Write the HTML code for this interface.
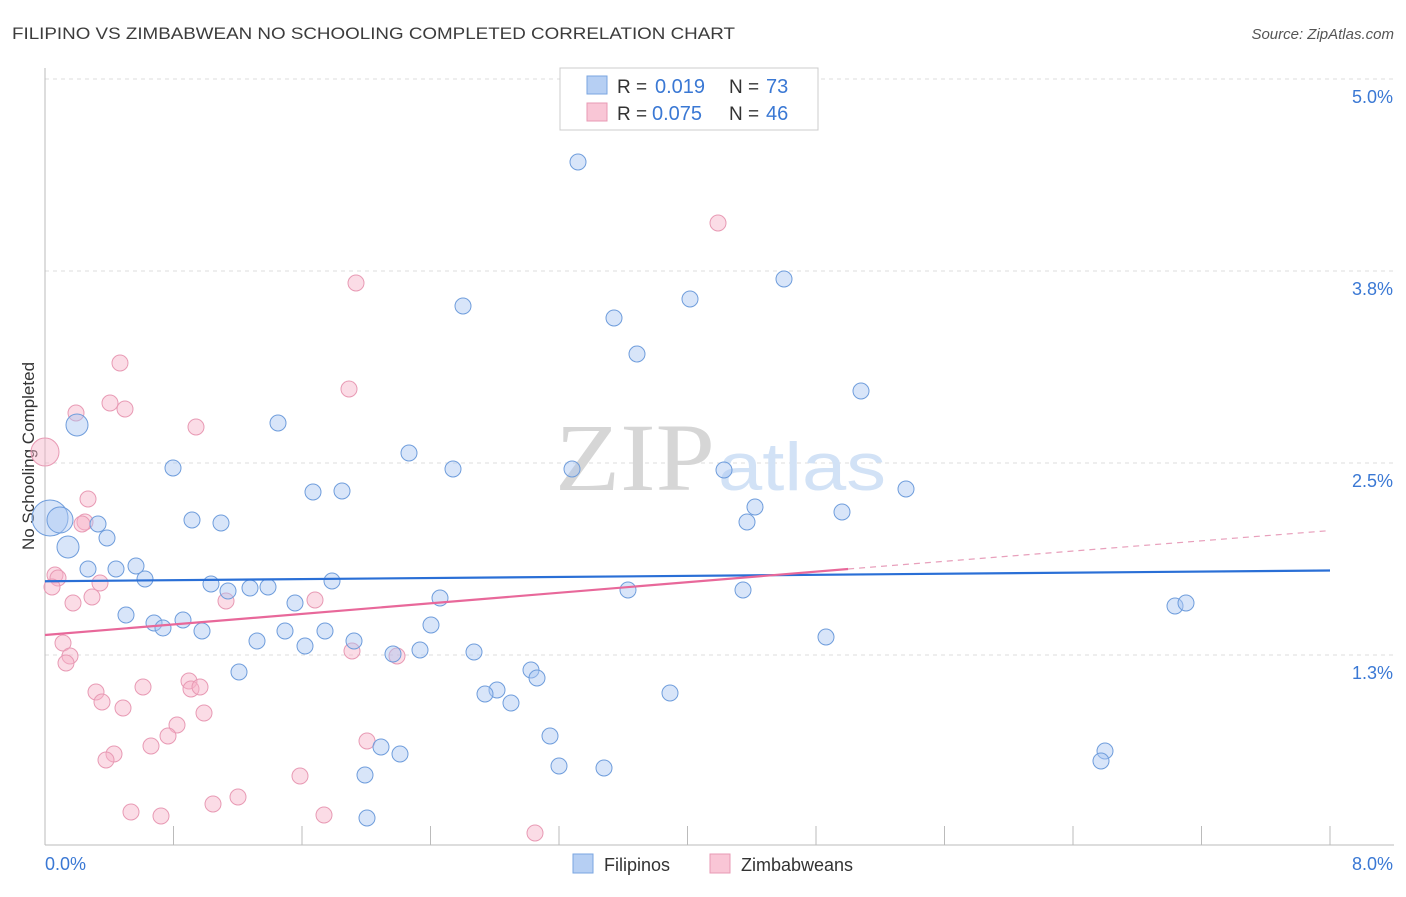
<!DOCTYPE html>
<html><head><meta charset="utf-8"><style>
body{margin:0;background:#fff;font-family:"Liberation Sans",sans-serif}
</style></head><body>
<svg id="chart" width="1406" height="892" viewBox="0 0 1406 892" font-family="Liberation Sans, sans-serif">
<text x="12" y="39" font-size="17" fill="#3c3c3c" textLength="723" lengthAdjust="spacingAndGlyphs">FILIPINO VS ZIMBABWEAN NO SCHOOLING COMPLETED CORRELATION CHART</text>
<text x="1394" y="39" font-size="15" fill="#555" font-style="italic" text-anchor="end">Source: ZipAtlas.com</text>
<text x="34" y="456" font-size="17" fill="#333" text-anchor="middle" transform="rotate(-90 34 456)">No Schooling Completed</text>
<g id="grid"></g>
<text x="555" y="490" font-size="96" fill="#d6d6d6" style="font-family:'Liberation Serif',serif" textLength="160" lengthAdjust="spacingAndGlyphs">ZIP</text>
<text x="718" y="490" font-size="68" fill="#d2e2f6" textLength="168" lengthAdjust="spacingAndGlyphs">atlas</text>
<g id="pts"></g>
<g id="lines"></g>
<g>
<rect x="560" y="68" width="258" height="62" fill="#fff" stroke="#ccc"/>
<rect x="587" y="76" width="20" height="18" fill="#b6cff3" stroke="#7aa6e0"/>
<rect x="587" y="103" width="20" height="18" fill="#f9c6d6" stroke="#e89ab4"/>
<text x="617" y="93" font-size="19" fill="#333">R =</text>
<text x="655" y="93" font-size="20" fill="#3a78d4">0.019</text>
<text x="729" y="93" font-size="19" fill="#333">N =</text>
<text x="766" y="93" font-size="20" fill="#3a78d4">73</text>
<text x="617" y="120" font-size="19" fill="#333">R =</text>
<text x="652" y="120" font-size="20" fill="#3a78d4">0.075</text>
<text x="729" y="120" font-size="19" fill="#333">N =</text>
<text x="766" y="120" font-size="20" fill="#3a78d4">46</text>
</g>
<g>
<rect x="573" y="854" width="20" height="19" fill="#b6cff3" stroke="#7aa6e0"/>
<text x="604" y="871" font-size="18" fill="#333">Filipinos</text>
<rect x="710" y="854" width="20" height="19" fill="#f9c6d6" stroke="#e89ab4"/>
<text x="741" y="871" font-size="18" fill="#333">Zimbabweans</text>
</g>
</svg>
<script>
const xTicks=[0,0.8,1.6,2.4,3.2,4.0,4.8,5.6,6.4,7.2,8.0];
const yTicks=[5.0,3.75,2.5,1.25];
const yTickLabels=["5.0%","3.8%","2.5%","1.3%"];
const bluePx=[[578,162],[784,279],[463,306],[690,299],[614,318],[637,354],[861,391],[77,425],[278,423],[409,453],[173,468],[453,469],[572,469],[724,470],[906,489],[313,492],[342,491],[755,507],[842,512],[50,518],[60,520],[192,520],[221,523],[98,524],[747,522],[107,538],[68,547],[136,566],[88,569],[116,569],[145,579],[332,581],[211,584],[228,591],[250,588],[268,587],[628,590],[743,590],[440,598],[295,603],[1175,606],[1186,603],[126,615],[183,620],[154,623],[163,628],[202,631],[285,631],[325,631],[431,625],[826,637],[354,641],[257,641],[305,646],[393,654],[420,650],[474,652],[239,672],[531,670],[537,678],[497,690],[485,694],[670,693],[511,703],[550,736],[381,747],[400,754],[1105,751],[1101,761],[559,766],[604,768],[365,775],[367,818]];
const blueR={7:11,19:18,20:13,26:11};
const pinkPx=[[718,223],[356,283],[120,363],[349,389],[110,403],[125,409],[76,413],[196,427],[45,452],[88,499],[85,522],[82,524],[55,575],[58,578],[52,587],[100,583],[73,603],[92,597],[226,601],[315,600],[63,643],[70,656],[66,663],[352,651],[397,656],[189,681],[191,689],[200,687],[143,687],[96,692],[102,702],[123,708],[204,713],[177,725],[168,736],[151,746],[367,741],[114,754],[106,760],[300,776],[238,797],[213,804],[131,812],[161,816],[324,815],[535,833]];
const pinkR={8:14};
const toData=p=>[ (p[0]-45)/1285*8, 5-(p[1]-79)/153.6 ];
const blueX=bluePx.map(p=>toData(p)[0]), blueY=bluePx.map(p=>toData(p)[1]);
const pinkX=pinkPx.map(p=>toData(p)[0]), pinkY=pinkPx.map(p=>toData(p)[1]);
const blueFit=[1.73,1.80], pinkFit=[1.38,1.81,2.06];
const sx=v=>45+v/8*1285, sy=v=>79+(5-v)*153.6;
const NS="http://www.w3.org/2000/svg";
function mk(t,a,parent){const e=document.createElementNS(NS,t);for(const k in a)e.setAttribute(k,a[k]);parent.appendChild(e);return e;}
const grid=document.getElementById('grid');
yTicks.forEach((v,i)=>{
 const l=mk('line',{x1:45,x2:1394,y1:sy(v),y2:sy(v),stroke:'#ddd','stroke-dasharray':'4,4'},grid);
 
 
 const t=mk('text',{x:1393,y:sy(v)+24,'font-size':18,fill:'#3a78d4','text-anchor':'end'},grid);
 t.textContent=yTickLabels[i];
 
 
});
const ax=mk('line',{x1:45,x2:45,y1:68,y2:845,stroke:'#bbb'},grid);


const bx=mk('line',{x1:45,x2:1394,y1:845,y2:845,stroke:'#bbb'},grid);


xTicks.forEach(v=>{
 const l=mk('line',{x1:sx(v),x2:sx(v),y1:826,y2:845,stroke:'#bbb'},grid);
 
 
});
[[0,'0.0%',45,'start'],[8,'8.0%',1393,'end']].forEach(d=>{
 const t=mk('text',{x:d[2],y:870,'font-size':18,fill:'#3a78d4','text-anchor':d[3]},grid);
 t.textContent=d[1];
 
 
});
const pts=document.getElementById('pts');
pinkX.forEach((x,i)=>{
 const c=mk('circle',{cx:sx(x),cy:sy(pinkY[i]),r:pinkR[i]||8,fill:'rgba(246,178,200,0.45)',stroke:'#e89ab4','stroke-width':1},pts);
 
 
});
blueX.forEach((x,i)=>{
 const c=mk('circle',{cx:sx(x),cy:sy(blueY[i]),r:blueR[i]||8,fill:'rgba(168,198,242,0.45)',stroke:'#6f9ddc','stroke-width':1},pts);
 
 
});
const lines=document.getElementById('lines');
const bl=mk('line',{x1:sx(0),y1:sy(blueFit[0]),x2:sx(8),y2:sy(blueFit[1]),stroke:'#2a6fd6','stroke-width':2.2},lines);


const pl=mk('line',{x1:sx(0),y1:sy(pinkFit[0]),x2:sx(5),y2:sy(pinkFit[1]),stroke:'#e8689a','stroke-width':2.2},lines);


const pd=mk('line',{x1:sx(5),y1:sy(pinkFit[1]),x2:sx(8),y2:sy(pinkFit[2]),stroke:'#e8a0bc','stroke-width':1.2,'stroke-dasharray':'6,5'},lines);


</script>
</body></html>
